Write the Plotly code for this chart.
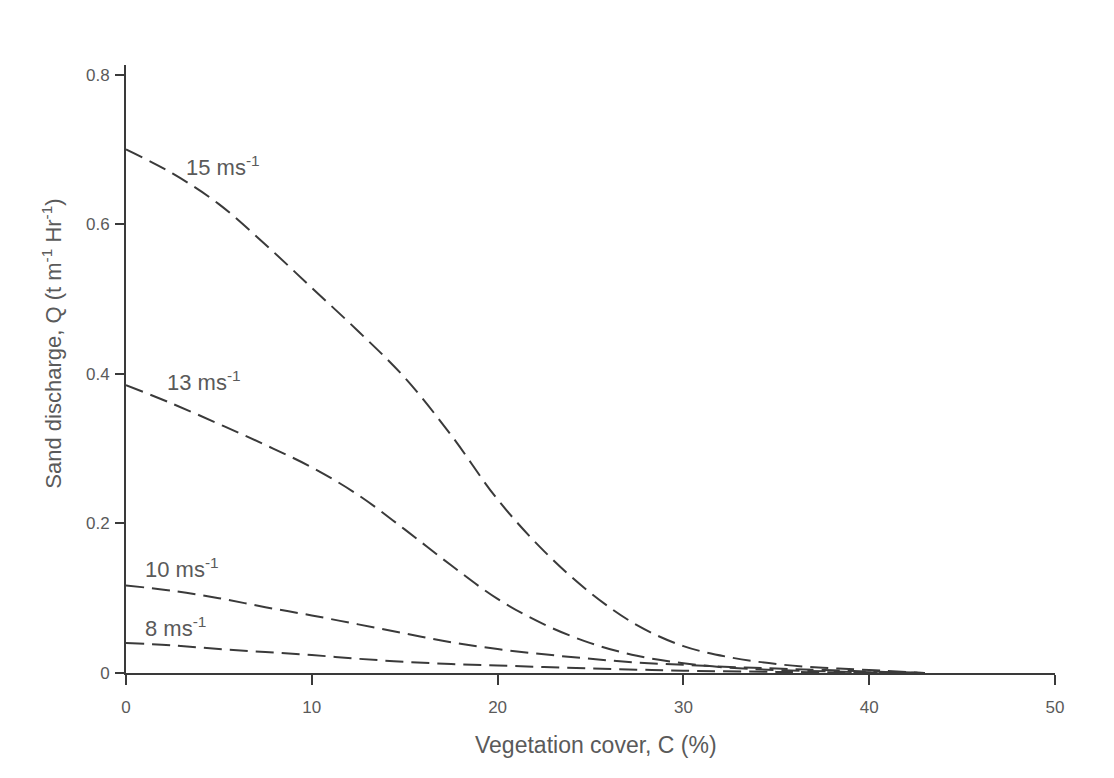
import plotly.graph_objects as go

# Vegetation cover C (%) and sand discharge Q (t m-1 Hr-1)
x15 = [0, 2.5, 5, 7.5, 10, 12.5, 15, 17.5, 20, 22.5, 25, 27.5, 30, 32.5, 35, 37.5, 40, 43]
y15 = [0.70, 0.668, 0.627, 0.573, 0.515, 0.457, 0.395, 0.318, 0.232, 0.163, 0.107, 0.064, 0.036, 0.021, 0.012, 0.007, 0.004, 0.0]

x13 = [0, 2.5, 5, 7.5, 10, 12.5, 15, 17.5, 20, 22.5, 25, 27.5, 30, 32.5, 35, 40, 43]
y13 = [0.385, 0.36, 0.333, 0.305, 0.275, 0.238, 0.192, 0.144, 0.099, 0.065, 0.04, 0.023, 0.013, 0.007, 0.004, 0.001, 0.0]

x10 = [0, 2.5, 5, 7.5, 10, 12.5, 15, 17.5, 20, 22.5, 25, 27.5, 30, 32.5, 35, 40, 43]
y10 = [0.117, 0.11, 0.1, 0.088, 0.077, 0.065, 0.053, 0.041, 0.032, 0.025, 0.019, 0.014, 0.011, 0.008, 0.006, 0.002, 0.0]

x8 = [0, 2.5, 5, 7.5, 10, 12.5, 15, 17.5, 20, 22.5, 25, 27.5, 30, 35, 40, 43]
y8 = [0.04, 0.037, 0.032, 0.028, 0.024, 0.019, 0.015, 0.012, 0.01, 0.008, 0.006, 0.0045, 0.003, 0.0015, 0.0005, 0.0]

labels = ["15 ms<sup>-1</sup>", "13 ms<sup>-1</sup>", "10 ms<sup>-1</sup>", "8 ms<sup>-1</sup>"]
label_x = [3.1, 2.1, 0.9, 0.9]
label_y = [0.678, 0.390, 0.140, 0.062]

x_ticks = [0, 10, 20, 30, 40, 50]
y_ticks = [0, 0.2, 0.4, 0.6, 0.8]
y_tick_text = ["0", "0.2", "0.4", "0.6", "0.8"]

x_title = "Vegetation cover, C (%)"
y_title = "Sand discharge, Q (t m<sup>-1</sup> Hr<sup>-1</sup>)"

line_color = "#3a3a3a"
text_color = "#5a5a5a"
font_family = "Liberation Sans, Arial, sans-serif"

fig = go.Figure()
for xs, ys in [(x15, y15), (x13, y13), (x10, y10), (x8, y8)]:
    fig.add_trace(go.Scatter(
        x=xs, y=ys, mode="lines",
        line=dict(color=line_color, width=2, dash="18px,8px", shape="spline", smoothing=1.0),
        showlegend=False, hoverinfo="skip",
    ))

for t, lx, ly in zip(labels, label_x, label_y):
    fig.add_annotation(x=lx, y=ly, xref="x", yref="y", text=t, showarrow=False,
                       xanchor="left", yanchor="middle",
                       font=dict(size=22, color=text_color, family=font_family))

fig.add_annotation(x=25.3, y=-0.118, xref="x", yref="paper", text=x_title, showarrow=False,
                   xanchor="center", yanchor="middle",
                   font=dict(size=23, color=text_color, family=font_family))
fig.add_annotation(x=-0.080, y=0.44, xref="paper", yref="y", text=y_title, showarrow=False,
                   textangle=-90, xanchor="center", yanchor="middle",
                   font=dict(size=22, color=text_color, family=font_family))

fig.update_layout(
    width=1114, height=778,
    margin=dict(l=126, r=59, t=65, b=105),
    paper_bgcolor="white", plot_bgcolor="white",
    font=dict(family=font_family, color=text_color, size=17),
    xaxis=dict(range=[0, 50], tickvals=x_ticks, showgrid=False, zeroline=False,
               showline=True, linecolor=line_color, linewidth=2,
               ticks="outside", ticklen=10, tickwidth=1.5, tickcolor=line_color,
               ticklabelstandoff=8, tickfont=dict(size=17, color=text_color)),
    yaxis=dict(range=[0, 0.813], tickvals=y_ticks, ticktext=y_tick_text, showgrid=False,
               zeroline=False, showline=True, linecolor=line_color, linewidth=2,
               ticks="outside", ticklen=9, tickwidth=1.5, tickcolor=line_color,
               ticklabelstandoff=2, tickfont=dict(size=17, color=text_color)),
)

fig.write_html("out.html")
